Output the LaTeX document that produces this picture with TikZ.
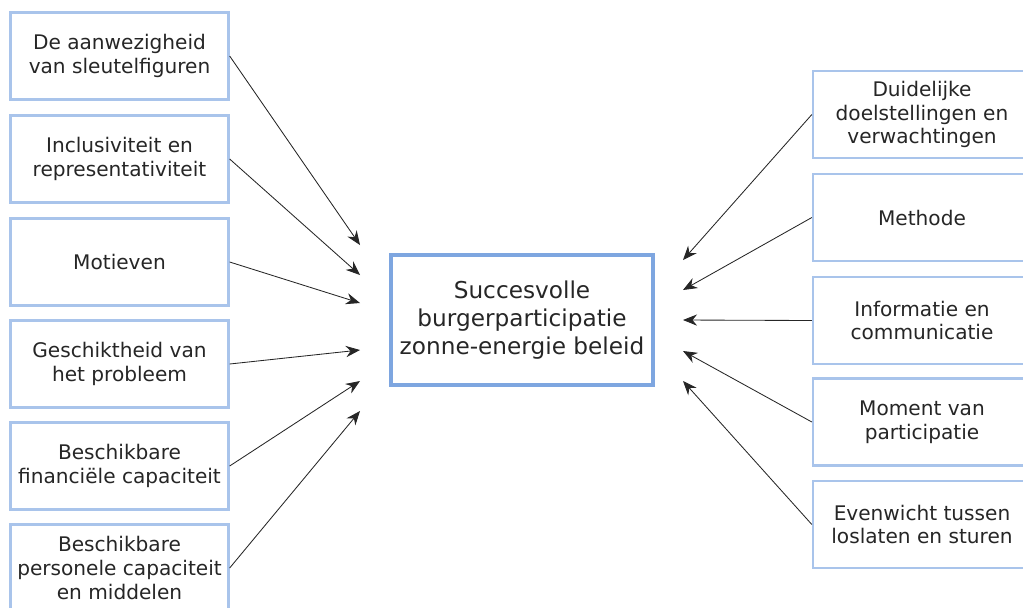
\documentclass[tikz,border=0pt]{standalone}
\usepackage{fontspec}
\setmainfont{DejaVu Sans}
\usetikzlibrary{arrows.meta}
\definecolor{sideblue}{HTML}{A9C4EB}
\definecolor{goalblue}{HTML}{7EA6E0}
\tikzset{
  factor/.style={draw=sideblue, line width=1.6pt, fill=white, minimum width=5.45cm,
    minimum height=2.17cm, align=center, font=\fontsize{14.3}{17}\selectfont, text=black!85},
  goalbox/.style={draw=goalblue, line width=2.6pt, minimum width=6.55cm, minimum height=3.25cm,
    align=center, font=\fontsize{16.5}{20}\selectfont, text=black!85},
  infl/.style={-{Stealth[length=10pt,width=8pt]}, line width=0.6pt, black!85}
}
\begin{document}
\begin{tikzpicture}[x=0.025cm,y=-0.025cm]
    \useasboundingbox (0,0) rectangle (1023,607);
    % centre
    \node[goalbox] (goal) at (522,320) {Succesvolle\\burgerparticipatie\\zonne-energie beleid};
    % left column
    \node[factor] (sleutel) at (119.5,56) {De aanwezigheid\\van sleutelfiguren};
    \node[factor] (inclus) at (119.5,159) {Inclusiviteit en\\representativiteit};
    \node[factor] (motief) at (119.5,262) {Motieven};
    \node[factor] (geschikt) at (119.5,364) {Geschiktheid van\\het probleem};
    \node[factor] (financ) at (119.5,466) {Beschikbare\\financiële capaciteit};
    \node[factor] (person) at (119.5,568) {Beschikbare\\personele capaciteit\\en middelen};
    % right column
    \node[factor] (doelen) at (922,114.5) {Duidelijke\\doelstellingen en\\verwachtingen};
    \node[factor] (methode) at (922,217.5) {Methode};
    \node[factor] (info) at (922,320.5) {Informatie en\\communicatie};
    \node[factor] (moment) at (922,422) {Moment van\\participatie};
    \node[factor] (evenw) at (922,524.5) {Evenwicht tussen\\loslaten en sturen};
    % arrow ends
    \coordinate (l1) at (360,245);
    \coordinate (l2) at (360,275);
    \coordinate (l3) at (360,303);
    \coordinate (l4) at (360,350);
    \coordinate (l5) at (360,381);
    \coordinate (l6) at (360,411);
    \coordinate (r1) at (683,260);
    \coordinate (r2) at (683,290);
    \coordinate (r3) at (683,320);
    \coordinate (r4) at (683,351);
    \coordinate (r5) at (683,381);
    \draw[infl] (sleutel.east) -- (l1);
    \draw[infl] (inclus.east) -- (l2);
    \draw[infl] (motief.east) -- (l3);
    \draw[infl] (geschikt.east) -- (l4);
    \draw[infl] (financ.east) -- (l5);
    \draw[infl] (person.east) -- (l6);
    \draw[infl] (doelen.west) -- (r1);
    \draw[infl] (methode.west) -- (r2);
    \draw[infl] (info.west) -- (r3);
    \draw[infl] (moment.west) -- (r4);
    \draw[infl] (evenw.west) -- (r5);
\end{tikzpicture}
\end{document}
